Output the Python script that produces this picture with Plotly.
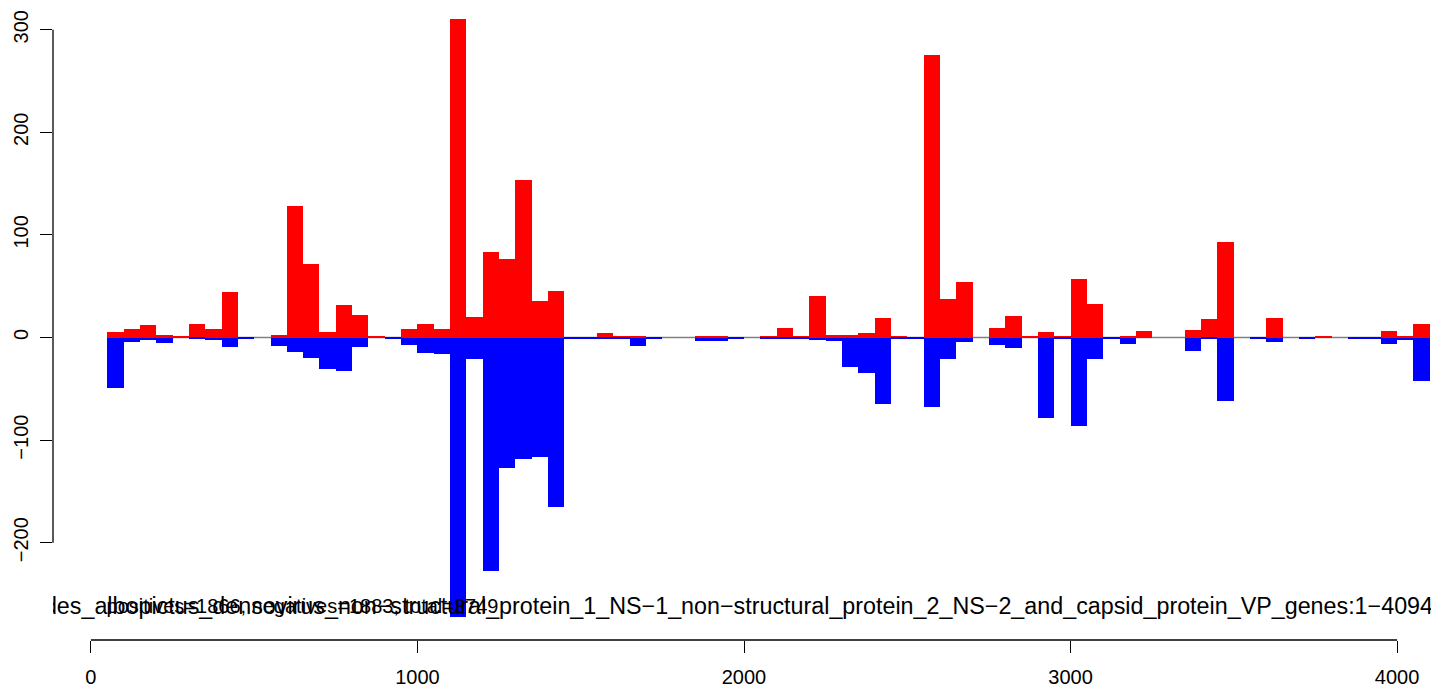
import plotly.graph_objects as go

bin_width = 50
bin_left = list(range(0, 4100, 50))

positives = [0, 5, 8, 12, 2, 1, 13, 8, 44, 0, 0, 2, 128, 72, 5, 32, 22, 1, 0, 8,
             13, 8, 310, 20, 83, 77, 154, 36, 45, 0, 0, 4, 1, 1, 0, 0, 0, 1, 1, 0,
             0, 1, 9, 1, 40, 2, 2, 4, 19, 1, 0, 275, 38, 54, 0, 9, 21, 1, 5, 1,
             57, 33, 0, 1, 6, 0, 0, 7, 18, 93, 0, 0, 19, 0, 0, 1, 0, 0, 0, 6,
             1, 13]
negatives = [0, -49, -4, -2, -5, 0, -1, -2, -9, -1, 0, -8, -14, -20, -31, -33, -9, 0, -1, -7,
             -15, -16, -272, -21, -228, -127, -118, -116, -165, -1, -1, -1, -1, -8, -1, 0, 0, -3, -3, -1,
             0, -1, -1, -1, -2, -3, -29, -35, -65, -1, -1, -68, -21, -4, 0, -7, -10, 0, -78, -1,
             -86, -21, -1, -6, 0, 0, 0, -13, -1, -62, 0, -1, -4, 0, -1, 0, 0, -1, -1, -6,
             -2, -42]

x_ticks = [0, 1000, 2000, 3000, 4000]
y_ticks = [-200, -100, 0, 100, 200, 300]

title_text = ("Aedes_albopictus_densovirus_non\u2212structural_protein_1_NS\u22121_non\u2212structural_"
              "protein_2_NS\u22122_and_capsid_protein_VP_genes:1\u22124094")
count_text = "positives=1866, negatives=1883, total=3749"

centers = [l + bin_width / 2 for l in bin_left]
FONT = "Liberation Sans, Arial, Helvetica, sans-serif"

fig = go.Figure()
fig.add_trace(go.Bar(x=centers, y=positives, width=bin_width, marker=dict(color="#FF0000", line=dict(width=0)),
                     showlegend=False, hoverinfo="skip"))
fig.add_trace(go.Bar(x=centers, y=negatives, width=bin_width, marker=dict(color="#0000FF", line=dict(width=0)),
                     showlegend=False, hoverinfo="skip"))

fig.add_trace(go.Scatter(x=[4110], y=[-263.6], mode="text", text=[title_text], textposition="middle left",
                         textfont=dict(family=FONT, size=23.3, color="black"), cliponaxis=True,
                         showlegend=False, hoverinfo="skip"))
fig.add_trace(go.Scatter(x=[648], y=[-263.6], mode="text", text=[count_text], textposition="middle center",
                         textfont=dict(family=FONT, size=20, color="black"), cliponaxis=True,
                         showlegend=False, hoverinfo="skip"))

shapes = [
    dict(type="line", xref="x", yref="y", x0=50, x1=4100, y0=0, y1=0, line=dict(color="gray", width=1.5), layer="below"),
    dict(type="line", xref="x", yref="paper", x0=x_ticks[0], x1=x_ticks[-1], y0=0, y1=0, line=dict(color="black", width=1.3)),
    dict(type="line", xref="paper", yref="y", x0=0, x1=0, y0=y_ticks[0], y1=y_ticks[-1], line=dict(color="black", width=1.3)),
]

fig.update_layout(
    width=1431, height=683,
    margin=dict(l=42, r=4, t=2, b=51),
    paper_bgcolor="white", plot_bgcolor="white",
    barmode="overlay", bargap=0,
    shapes=shapes,
    font=dict(family=FONT, size=20, color="black"),
    xaxis=dict(range=[-116.1, 4116.1], showgrid=False, zeroline=False, showline=False,
               tickmode="array", tickvals=x_ticks, ticks="outside", ticklen=12, tickwidth=1.3,
               tickcolor="black", tickfont=dict(size=20), ticklabelstandoff=7),
    yaxis=dict(range=[-294.8, 319.2], showgrid=False, zeroline=False, showline=False,
               tickmode="array", tickvals=y_ticks, ticktext=[str(v).replace("-", "\u2212") for v in y_ticks],
               ticks="outside", ticklen=12, tickwidth=1.3, tickcolor="black", tickangle=-90,
               tickfont=dict(size=20), ticklabelstandoff=4),
)

fig.write_html("out.html")
